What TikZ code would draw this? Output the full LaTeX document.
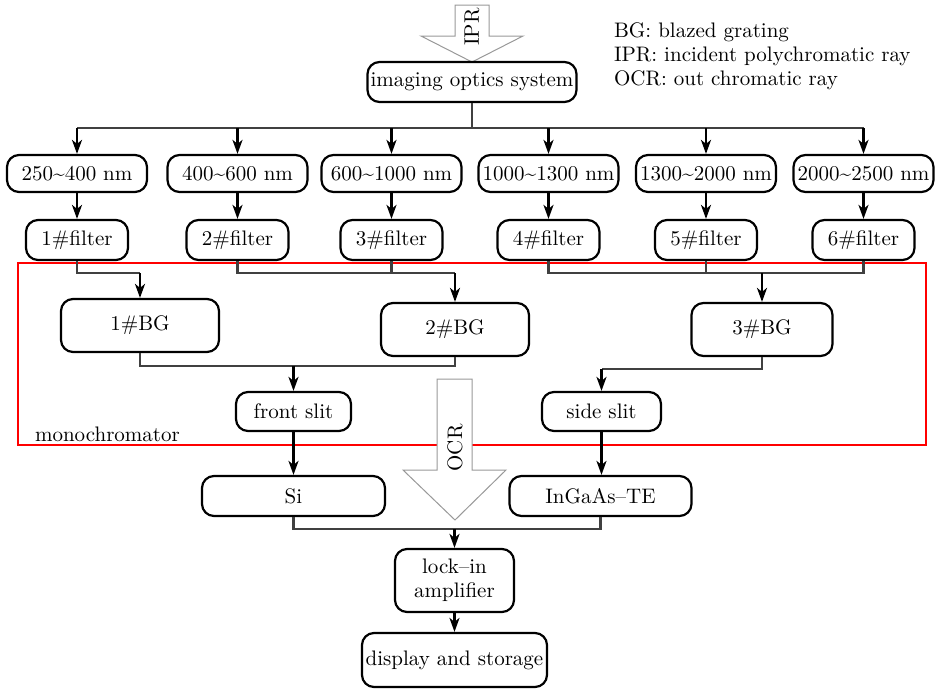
\documentclass[tikz,border=0pt]{standalone}
\usetikzlibrary{arrows.meta}
\begin{document}
\begin{tikzpicture}[x=0.5pt,y=-0.5pt,
  font=\fontsize{10.5}{12}\selectfont,
  box/.style={draw=black, line width=1.1pt, rounded corners=6pt, inner sep=1pt, fill=white},
  conn/.style={draw=black!75, line width=1.1pt},
  arr/.style={draw=black, line width=1.1pt, -{Stealth[length=7pt,width=5pt,inset=2pt]}},
  bigarrow/.style={draw=black!40, line width=0.5pt, fill=white}]
\useasboundingbox (0,0) rectangle (939,691);
% monochromator frame
\draw[red, line width=1pt] (18,263) rectangle (926,445);
\node[anchor=base west] (mono) at (28,441) {monochromator};
% big arrows
\draw[bigarrow] (455,5) -- (489,5) -- (489,36) -- (523,36) -- (472,62) -- (421,36) -- (455,36) -- cycle;
\node[rotate=90] (ipr) at (472,27) {IPR};
\draw[bigarrow] (437,379) -- (472,379) -- (472,470) -- (506,470) -- (455,520) -- (403,470) -- (437,470) -- cycle;
\node[rotate=90] (ocr) at (455,448) {OCR};
% legend
\node[anchor=base west] (lg1) at (607,37) {BG: blazed grating};
\node[anchor=base west] (lg2) at (607,61) {IPR: incident polychromatic ray};
\node[anchor=base west] (lg3) at (607,85) {OCR: out chromatic ray};
% nodes
\node[box, minimum width=104.5pt, minimum height=20pt] (img) at (472,82) {imaging optics system};
\node[box, minimum width=70pt, minimum height=18.5pt] (r1) at (77,173.5) {250\textasciitilde400 nm};
\node[box, minimum width=70pt, minimum height=18.5pt] (r2) at (237.5,173.5) {400\textasciitilde600 nm};
\node[box, minimum width=70pt, minimum height=18.5pt] (r3) at (391.5,173.5) {600\textasciitilde1000 nm};
\node[box, minimum width=70pt, minimum height=18.5pt] (r4) at (548.5,173.5) {1000\textasciitilde1300 nm};
\node[box, minimum width=70pt, minimum height=18.5pt] (r5) at (706,173.5) {1300\textasciitilde2000 nm};
\node[box, minimum width=70pt, minimum height=18.5pt] (r6) at (863.5,173.5) {2000\textasciitilde2500 nm};
\node[box, minimum width=51pt, minimum height=20pt] (f1) at (77,240) {1\#filter};
\node[box, minimum width=51pt, minimum height=20pt] (f2) at (237.5,240) {2\#filter};
\node[box, minimum width=51pt, minimum height=20pt] (f3) at (391.5,240) {3\#filter};
\node[box, minimum width=51pt, minimum height=20pt] (f4) at (548.5,240) {4\#filter};
\node[box, minimum width=51pt, minimum height=20pt] (f5) at (706,240) {5\#filter};
\node[box, minimum width=51pt, minimum height=20pt] (f6) at (863.5,240) {6\#filter};
\node[box, minimum width=79pt, minimum height=26.5pt] (bg1) at (140,325.5) {1\#BG};
\node[box, minimum width=74pt, minimum height=26.5pt] (bg2) at (455,329.5) {2\#BG};
\node[box, minimum width=70.5pt, minimum height=26.5pt] (bg3) at (762,329.5) {3\#BG};
\node[box, minimum width=57.5pt, minimum height=19.5pt] (fs) at (293.5,411.5) {front slit};
\node[box, minimum width=59.5pt, minimum height=19.5pt] (ss) at (601.5,411.5) {side slit};
\node[box, minimum width=91.5pt, minimum height=20pt] (si) at (293.5,496) {Si};
\node[box, minimum width=91pt, minimum height=20pt] (ing) at (600.5,496) {InGaAs--TE};
\node[box, minimum width=59.5pt, minimum height=31.5pt, align=center] (lock) at (454.5,580.5) {lock--in\\amplifier};
\node[box, minimum width=92.5pt, minimum height=27pt] (disp) at (454.5,660) {display and storage};
% helper coordinates
\coordinate (bus) at (0,128);
\coordinate (fb) at (0,273);
\coordinate (bb) at (0,366);
\coordinate (bb3) at (0,369);
\coordinate (sb) at (0,529);
% connectors
\draw[conn] (img.south) -- (img.south |- bus);
\draw[conn] (r1.north |- bus) -- (r6.north |- bus);
\foreach \r in {r1,r2,r3,r4,r5,r6} {\draw[arr] (\r.north |- bus) -- (\r.north);}
\draw[arr] (r1) -- (f1);
\draw[arr] (r2) -- (f2);
\draw[arr] (r3) -- (f3);
\draw[arr] (r4) -- (f4);
\draw[arr] (r5) -- (f5);
\draw[arr] (r6) -- (f6);
\draw[conn] (f1.south) -- (f1.south |- fb) -- (bg1.north |- fb);
\draw[arr] (bg1.north |- fb) -- (bg1.north);
\draw[conn] (f2.south) -- (f2.south |- fb) -- (bg2.north |- fb);
\draw[conn] (f3.south) -- (f3.south |- fb);
\draw[arr] (bg2.north |- fb) -- (bg2.north);
\draw[conn] (f4.south) -- (f4.south |- fb) -- (f6.south |- fb) -- (f6.south);
\draw[conn] (f5.south) -- (f5.south |- fb);
\draw[arr] (bg3.north |- fb) -- (bg3.north);
\draw[conn] (bg1.south) -- (bg1.south |- bb) -- (bg2.south |- bb) -- (bg2.south);
\draw[arr] (fs.north |- bb) -- (fs.north);
\draw[conn] (bg3.south) -- (bg3.south |- bb3) -- (ss.north |- bb3);
\draw[arr] (ss.north |- bb3) -- (ss.north);
\draw[arr] (fs) -- (si);
\draw[arr] (ss.south) -- (ss.south |- ing.north);
\draw[conn] (si.south) -- (si.south |- sb) -- (ing.south |- sb) -- (ing.south);
\draw[arr] (lock.north |- sb) -- (lock.north);
\draw[arr] (lock) -- (disp);
\end{tikzpicture}
\end{document}
